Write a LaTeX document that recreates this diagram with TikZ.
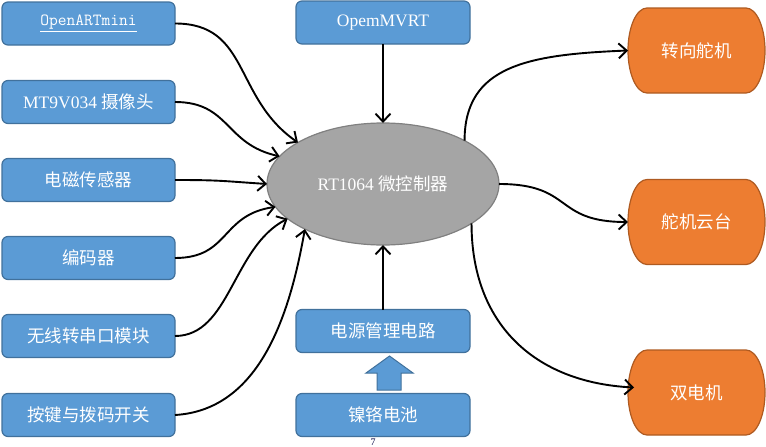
\documentclass[tikz,border=0pt]{standalone}
\usepackage{fontspec}
\setmainfont{Liberation Serif}
\newfontfamily\cjk{Noto Sans CJK SC}
\usetikzlibrary{arrows.meta,shapes.geometric,backgrounds}
\definecolor{bfill}{HTML}{5B9BD5}
\definecolor{bline}{HTML}{41719C}
\definecolor{ofill}{HTML}{ED7D31}
\definecolor{oline}{HTML}{AE5A21}
\definecolor{gfill}{HTML}{A5A5A5}
\definecolor{gline}{HTML}{808080}
\newcommand\termpath[1]{%
  \path[oedge] ([xshift=-19pt]#1.north east) .. controls +(10.5,0) and +(0,-23.5) .. (#1.east)
   .. controls +(0,23.5) and +(10.5,0) .. ([xshift=-19pt]#1.south east)
   -- ([xshift=19pt]#1.south west) .. controls +(-10.5,0) and +(0,23.5) .. (#1.west)
   .. controls +(0,-23.5) and +(-10.5,0) .. ([xshift=19pt]#1.north west) -- cycle;}
\begin{document}
\begin{tikzpicture}[x=1pt,y=-1pt,
  txt/.style={text=white,font=\fontsize{17.5}{20}\selectfont},
  bbox/.style={txt,draw=bline,fill=bfill,line width=1.2pt,rounded corners=6pt,
    minimum width=173pt,minimum height=43pt,inner sep=0pt,outer sep=0pt},
  obox/.style={txt,minimum width=137pt,minimum height=85pt,inner sep=0pt,outer sep=0pt},
  oedge/.style={draw=oline,fill=ofill,line width=1.2pt},
  mcu/.style={txt,ellipse,draw=gline,fill=gfill,line width=1.2pt,
    minimum width=232pt,minimum height=122pt,inner sep=0pt,outer sep=0pt},
  conn/.style={line width=1.9pt,-{Straight Barb[length=8pt,width=15pt]}},
  blockarrow/.style={draw=bline,fill=bfill,line width=1pt}
]
\useasboundingbox (0,0) rectangle (766,447);
% left inputs
\node[bbox] (b1) at (88.5,23.5) {\ttfamily\fontsize{17}{20}\selectfont\underline{OpenARTmini}};
\node[bbox] (b2) at (88.5,102) {MT9V034 {\cjk 摄像头}};
\node[bbox] (b3) at (88.5,180) {\cjk 电磁传感器};
\node[bbox] (b4) at (88.5,258) {\cjk 编码器};
\node[bbox] (b5) at (88.5,336) {\cjk 无线转串口模块};
\node[bbox] (b6) at (88.5,415) {\cjk 按键与拨码开关};
% centre column
\node[bbox,minimum width=174pt] (tp) at (383,22.5) {OpemMVRT};
\node[mcu] (mc) at (383,184) {RT1064 {\cjk 微控制器}};
\node[bbox,minimum width=174pt] (pw) at (383,331) {\cjk 电源管理电路};
\node[bbox,minimum width=174pt] (bat) at (383,415) {\cjk 镍铬电池};
\node[font=\fontsize{10}{11}\selectfont,text=black!75!blue,inner sep=0pt] (pg) at (373,442) {7};
% outputs
\node[obox] (o1) at (696.5,50.5) {\cjk 转向舵机};
\node[obox] (o2) at (696.5,222) {\cjk 舵机云台};
\node[obox] (o3) at (696.5,392.5) {\cjk 双电机};
\begin{pgfonlayer}{background}
  \termpath{o1}
  \termpath{o2}
  \termpath{o3}
\end{pgfonlayer}
% block arrow battery -> power
\draw[blockarrow] (377,390) -- (377,373) -- (366,373) -- (389.5,356) -- (413,373) -- (401,373) -- (401,390) -- cycle;
% connectors
\draw[conn] (b1.east) .. controls +(75,0) and +(-65,-45) .. (mc.154.5);
\draw[conn] (b2.east) .. controls +(55,0) and +(-55,-12) .. (mc.165);
\draw[conn] (b3.east) .. controls +(45,0) and +(-45,-3) .. (mc.180);
\draw[conn] (b4.east) .. controls +(55,0) and +(-55,8) .. (mc.192);
\draw[conn] (b5.east) .. controls +(55,0) and +(-55,28) .. (mc.200.6);
\draw[conn] (b6.east) .. controls +(85,-5) and +(-15,85) .. (mc.210.6);
\draw[conn] (tp.south) -- (mc.north);
\draw[conn] (pw.north) -- (mc.south);
\draw[conn] (mc.28) .. controls +(0,-75) and +(-100,4) .. (o1.west);
\draw[conn] (mc.east) .. controls +(75,0) and +(-75,0) .. (o2.west);
\draw[conn] (mc.336.3) .. controls +(0,100) and +(-100,-5) .. ([shift={(6,-5)}]o3.west);
\end{tikzpicture}
\end{document}
